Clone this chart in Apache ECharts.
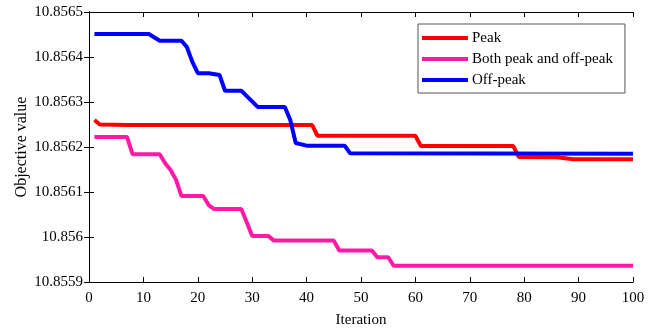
<!DOCTYPE html>
<html>
<head>
<meta charset="utf-8">
<script src="https://cdn.jsdelivr.net/npm/echarts@6/dist/echarts.min.js"></script>
<style>html,body{margin:0;padding:0;background:#fff;}#c{width:659px;height:333px;}</style>
</head>
<body>
<div id="c"></div>
<script>
var seriesNames = ['Peak', 'Both peak and off-peak', 'Off-peak'];
var xTicks = [0, 10, 20, 30, 40, 50, 60, 70, 80, 90, 100];
var yTicks = ['10.8559', '10.856', '10.8561', '10.8562', '10.8563', '10.8564', '10.8565'];

var peakIter = [1, 2, 7, 41, 42, 60, 61, 78, 79, 86, 89, 100];
var peakVal = [10.85626, 10.85625, 10.856249, 10.856249, 10.856225, 10.856225, 10.856202, 10.856202, 10.856178, 10.856177, 10.856173, 10.856173];

var bothIter = [1, 7, 8, 13, 14, 15, 16, 17, 21, 22, 23, 28, 29, 30, 33, 34, 45, 46, 52, 53, 55, 56, 100];
var bothVal = [10.856222, 10.856222, 10.856184, 10.856184, 10.856164, 10.856149, 10.856127, 10.856091, 10.856091, 10.856071, 10.856062, 10.856062, 10.856033, 10.856002, 10.856002, 10.855992, 10.855992, 10.85597, 10.85597, 10.855955, 10.855955, 10.855936, 10.855936];

var offIter = [1, 11, 13, 17, 18, 19, 20, 22, 24, 25, 28, 29, 31, 36, 37, 38, 40, 47, 48, 100];
var offVal = [10.856451, 10.856451, 10.856436, 10.856436, 10.856422, 10.856389, 10.856364, 10.856364, 10.85636, 10.856325, 10.856325, 10.856313, 10.856289, 10.856289, 10.85626, 10.856209, 10.856203, 10.856203, 10.856186, 10.856185];

var colors = ['#ff0000', '#ff1aa6', '#0000ff'];

function pairs(xs, ys) { return xs.map(function (x, i) { return [x, ys[i]]; }); }

var font = 'Liberation Serif';
var chart = echarts.init(document.getElementById('c'), null, { renderer: 'canvas' });

var axisLineStyle = { show: true, lineStyle: { color: '#000', width: 1 } };
var tickStyle = { show: true, inside: true, length: 5, lineStyle: { color: '#000', width: 1 } };

chart.setOption({
  animation: false,
  backgroundColor: '#fff',
  grid: { left: 89, right: 26, top: 12, bottom: 51, show: false },
  legend: {
    show: true,
    data: seriesNames,
    orient: 'vertical',
    left: 418,
    top: 24,
    padding: [6, 12, 5, 4],
    itemGap: 5,
    itemWidth: 46,
    itemHeight: 16,
    borderColor: '#555',
    borderWidth: 1,
    backgroundColor: '#fff',
    icon: 'path://M0,6 L46,6 L46,10 L0,10 Z',
    textStyle: { fontFamily: font, fontSize: 15, color: '#000', padding: [0, 0, 0, -1], lineHeight: 16 }
  },
  xAxis: [{
    type: 'value', min: 0, max: 100, interval: 10,
    name: 'Iteration', nameLocation: 'middle', nameGap: 31,
    nameTextStyle: { fontFamily: font, fontSize: 15, color: '#000' },
    axisLine: axisLineStyle, axisTick: tickStyle,
    axisLabel: { fontFamily: font, fontSize: 15, color: '#000', margin: 9 },
    splitLine: { show: false }
  }, {
    type: 'value', min: 0, max: 100, interval: 10, position: 'top',
    axisLine: axisLineStyle, axisTick: tickStyle, axisLabel: { show: false }, splitLine: { show: false }
  }],
  yAxis: [{
    type: 'value', min: 10.8559, max: 10.8565, interval: 0.0001,
    name: 'Objective value', nameLocation: 'middle', nameGap: 59, nameMoveOverlap: false,
    nameTextStyle: { fontFamily: font, fontSize: 16, color: '#000' },
    axisLine: axisLineStyle, axisTick: tickStyle,
    axisLabel: {
      fontFamily: font, fontSize: 15, color: '#000', margin: 6,
      formatter: function (v) {
        var idx = Math.round((v - 10.8559) / 0.0001);
        return yTicks[idx] !== undefined ? yTicks[idx] : '';
      }
    },
    splitLine: { show: false }
  }, {
    type: 'value', min: 10.8559, max: 10.8565, interval: 0.0001, position: 'right',
    axisLine: axisLineStyle, axisTick: tickStyle, axisLabel: { show: false }, splitLine: { show: false }
  }],
  series: [
    { name: seriesNames[0], type: 'line', data: pairs(peakIter, peakVal), showSymbol: false, symbol: 'none', lineStyle: { color: colors[0], width: 4 }, itemStyle: { color: colors[0] }, z: 3 },
    { name: seriesNames[1], type: 'line', data: pairs(bothIter, bothVal), showSymbol: false, symbol: 'none', lineStyle: { color: colors[1], width: 4 }, itemStyle: { color: colors[1] }, z: 4 },
    { name: seriesNames[2], type: 'line', data: pairs(offIter, offVal), showSymbol: false, symbol: 'none', lineStyle: { color: colors[2], width: 4 }, itemStyle: { color: colors[2] }, z: 5 }
  ]
});
</script>
</body>
</html>
